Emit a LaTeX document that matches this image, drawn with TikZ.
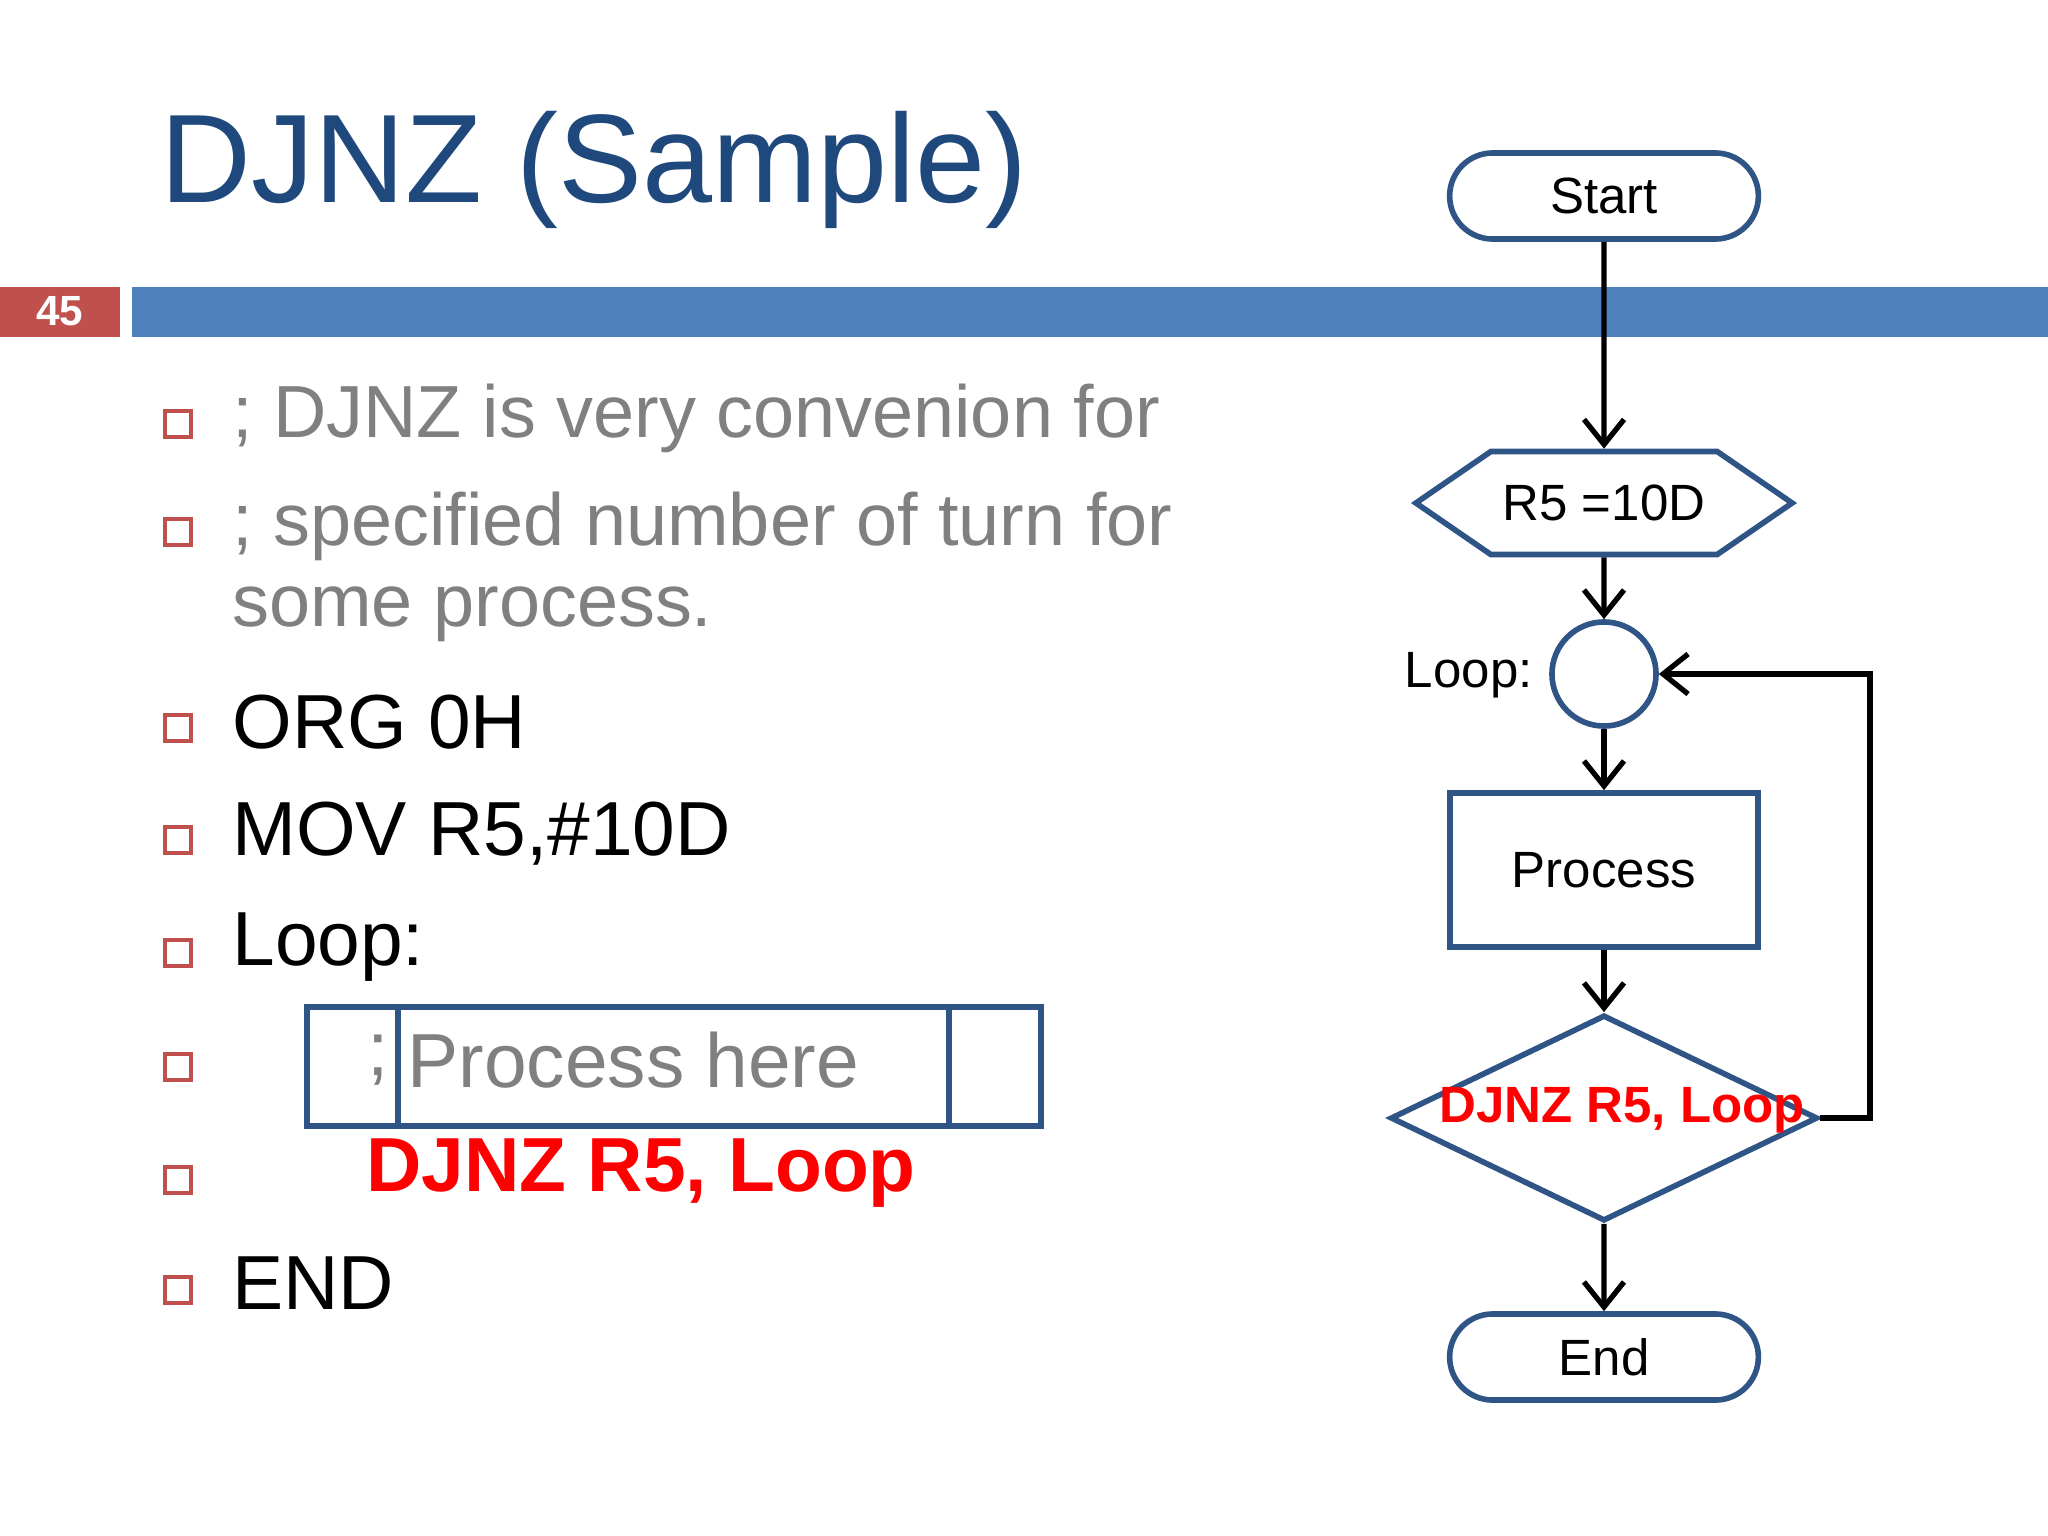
\documentclass[tikz,border=0pt]{standalone}
\usepackage{fontspec}
\setmainfont{Liberation Sans}
\usetikzlibrary{shapes.geometric,shapes.misc,shapes.symbols,arrows.meta}
\definecolor{titleblue}{HTML}{1F497D}
\definecolor{barblue}{HTML}{4F81BD}
\definecolor{barred}{HTML}{C0504D}
\definecolor{flowblue}{HTML}{2F5587}
\definecolor{textgray}{HTML}{808080}
\begin{document}
\begin{tikzpicture}[x=0.01cm,y=-0.01cm,
  bul/.style={draw=barred,line width=1.2pt,minimum size=0.26cm,inner sep=0pt},
  gray line/.style={anchor=west,text=textgray,font=\fontsize{21}{25}\selectfont},
  code/.style={anchor=west,font=\fontsize{21.8}{26}\selectfont},
  fl/.style={draw=flowblue,line width=1.6pt,font=\fontsize{14.5}{17}\selectfont},
  arr/.style={-{Straight Barb[length=2.5mm,width=4mm]},line width=1.5pt,black},
  ]
  \useasboundingbox (0,0) rectangle (2048,1536);
  \fill[white] (0,0) rectangle (2048,1536);
  % title and bar
  \node[anchor=west,text=titleblue,font=\fontsize{35.8}{40}\selectfont] (title) at (148,170) {DJNZ (Sample)};
  \fill[barred] (0,287) rectangle (120,337);
  \node[text=white,font=\bfseries\fontsize{12}{14}\selectfont] (num) at (60,311) {45};
  \fill[barblue] (132,287) rectangle (2048,337);
  % bullets
  \foreach \y in {424,532,728,840,953,1067,1180,1290}
    \node[bul] at (178,\y) {};
  \node[gray line] (l1) at (220,418) {; DJNZ is very convenion for};
  \node[gray line] (l2) at (220,526) {; specified number of turn for};
  \node[gray line] (l3) at (220,614) {some process.};
  \node[code] (l4) at (220,722) {ORG 0H};
  \node[code] (l5) at (220,834) {MOV R5,\#10D};
  \node[code] (l6) at (220,947) {Loop:};
  \draw[flowblue,line width=1.5pt] (307,1007) rectangle (1041,1126);
  \draw[flowblue,line width=1.5pt] (398,1007) -- (398,1126) (949,1007) -- (949,1126);
  \node[gray line,font=\fontsize{21.8}{26}\selectfont] (l7a) at (355,1060) {;};
  \node[gray line,font=\fontsize{21.8}{26}\selectfont] (l7) at (395,1060) {Process here};
  \node[code,text=red,font=\bfseries\fontsize{21.8}{26}\selectfont] (l8) at (354,1173) {DJNZ R5, Loop};
  \node[code] (l9) at (220,1283) {END};
  % flowchart
  \node[fl,rounded rectangle,minimum width=3.32cm,minimum height=0.86cm] (start) at (1604,196) {Start};
  \node[fl,signal,signal to=east and west,signal pointer angle=69,minimum width=3.76cm,minimum height=1.03cm,inner sep=0pt] (init) at (1604,503) {R5 =10D};
  \node[fl,circle,minimum size=1.04cm,inner sep=0pt] (loop) at (1604,674) {};
  \node[anchor=east,font=\fontsize{14.5}{17}\selectfont] (looplbl) at (1545,675) {Loop:};
  \node[fl,rectangle,minimum width=3.08cm,minimum height=1.54cm] (proc) at (1604,870) {Process};
  \node[fl,diamond,aspect=2.07,minimum width=4.27cm,minimum height=2.06cm,inner sep=0pt] (dec) at (1604,1118) {};
  \node[text=red,font=\bfseries\fontsize{14.5}{17}\selectfont] (declbl) at (1622,1110) {DJNZ R5, Loop};
  \node[fl,rounded rectangle,minimum width=3.32cm,minimum height=0.86cm] (end) at (1604,1357) {End};
  \coordinate (c1) at (1870,1118);
  \coordinate (c2) at (1870,674);
  \draw[arr] (start) -- (init);
  \draw[arr] (init) -- (loop);
  \draw[arr] (loop) -- (proc);
  \draw[arr] (proc) -- (dec);
  \draw[arr] (dec) -- (end);
  \draw[arr] (dec.east) -- (c1) -- (c2) -- (loop);
\end{tikzpicture}
\end{document}
